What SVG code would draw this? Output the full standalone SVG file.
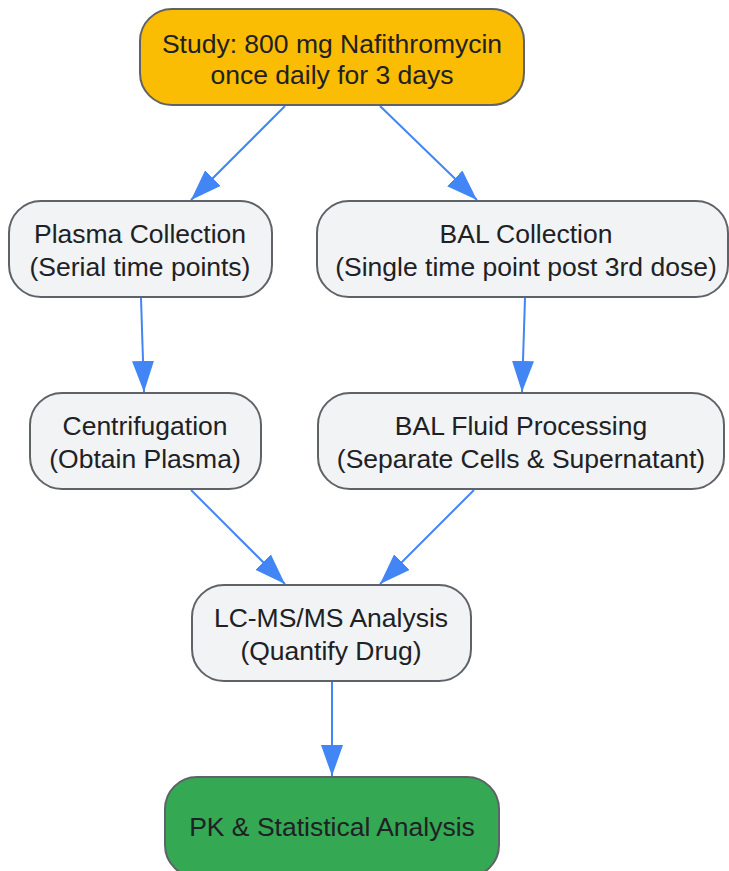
<svg xmlns="http://www.w3.org/2000/svg" width="729" height="871" viewBox="0 0 729 871">
<style>
.n{stroke:#5f6368;stroke-width:2}
.g{fill:#f1f3f4}
.t{font-family:"Liberation Sans",Arial,sans-serif;font-size:26.5px;fill:#202124;text-anchor:middle}
.e{stroke:#4285f4;stroke-width:2;fill:none;marker-end:url(#ah)}
</style>
<defs>
<marker id="ah" markerUnits="userSpaceOnUse" markerWidth="32" markerHeight="24" refX="31" refY="11" orient="auto">
<path d="M0,0 L31,11 L0,22 z" fill="#4285f4"/>
</marker>
</defs>
<rect width="729" height="871" fill="#ffffff"/>
<g id="edges">
<line class="e" x1="285" y1="106" x2="191" y2="200"/>
<line class="e" x1="380" y1="106" x2="477" y2="200"/>
<line class="e" x1="141" y1="298" x2="144" y2="392"/>
<line class="e" x1="525" y1="298" x2="522" y2="392"/>
<line class="e" x1="191" y1="490" x2="285" y2="584"/>
<line class="e" x1="474" y1="490" x2="380" y2="584"/>
<line class="e" x1="332" y1="682" x2="332" y2="776"/>
</g>
<g id="study">
<rect class="n" x="140" y="9" width="384" height="96" rx="32" fill="#fbbc04"/>
<text class="t" x="332" y="53">Study: 800 mg Nafithromycin</text>
<text class="t" x="332" y="84">once daily for 3 days</text>
</g>
<g id="plasma">
<rect class="n g" x="9" y="201" width="263" height="96" rx="32"/>
<text class="t" x="140" y="243">Plasma Collection</text>
<text class="t" x="140" y="276">(Serial time points)</text>
</g>
<g id="bal">
<rect class="n g" x="317" y="201" width="411" height="96" rx="32"/>
<text class="t" x="526" y="243">BAL Collection</text>
<text class="t" x="526" y="276">(Single time point post 3rd dose)</text>
</g>
<g id="centrifugation">
<rect class="n g" x="30" y="393" width="231" height="96" rx="32"/>
<text class="t" x="145" y="435">Centrifugation</text>
<text class="t" x="145" y="468">(Obtain Plasma)</text>
</g>
<g id="balfluid">
<rect class="n g" x="318" y="393" width="406" height="96" rx="32"/>
<text class="t" x="521" y="435">BAL Fluid Processing</text>
<text class="t" x="521" y="468">(Separate Cells &amp; Supernatant)</text>
</g>
<g id="lcms">
<rect class="n g" x="192" y="585" width="279" height="96" rx="32"/>
<text class="t" x="331" y="627">LC-MS/MS Analysis</text>
<text class="t" x="331" y="660">(Quantify Drug)</text>
</g>
<g id="pk">
<rect class="n" x="165" y="777" width="334" height="100" rx="32" fill="#34a853"/>
<text class="t" x="332" y="836">PK &amp; Statistical Analysis</text>
</g>
</svg>
